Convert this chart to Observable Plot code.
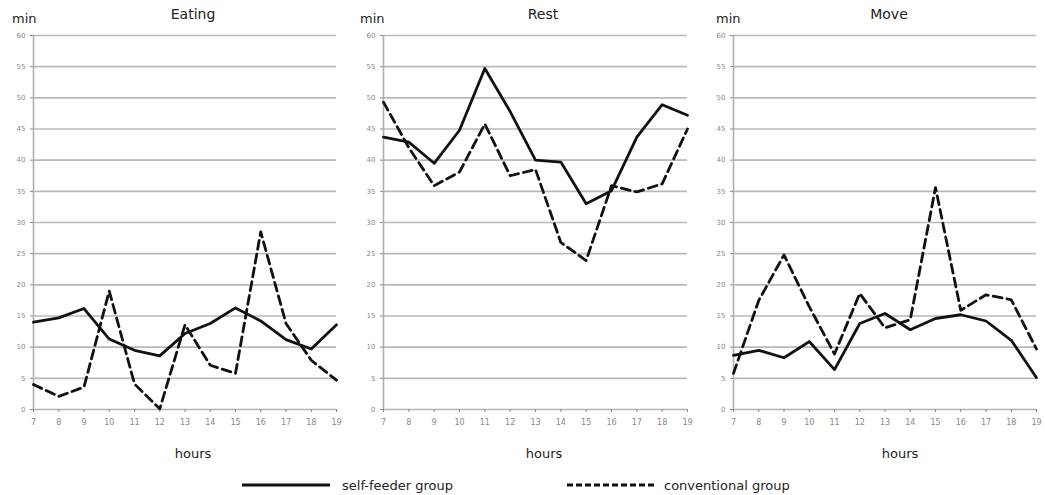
<!DOCTYPE html>
<html><head><meta charset="utf-8">
<script src="https://cdn.jsdelivr.net/npm/d3@7"></script>
<script src="https://cdn.jsdelivr.net/npm/@observablehq/plot@0.6"></script>
<style>
body{margin:0;background:#fff;font-family:"DejaVu Sans",sans-serif;}
#wrap{position:relative;width:1045px;height:495px;overflow:hidden;background:#fff}
.lbl{position:absolute;color:#222;white-space:nowrap;line-height:1}
.panel{position:absolute;top:0}
</style></head><body><div id="wrap"></div><script>
// ---- data ----
const hours = [7,8,9,10,11,12,13,14,15,16,17,18,19];
const yTicks = [0,5,10,15,20,25,30,35,40,45,50,55,60];
const titles = ["Eating","Rest","Move"];
const seriesNames = ["self-feeder group","conventional group"];
const eatingSelf = [14.0,14.7,16.2,11.3,9.5,8.6,12.2,13.8,16.3,14.2,11.2,9.7,13.6];
const eatingConv = [4.0,2.1,3.6,19.0,4.1,0.1,13.6,7.1,5.8,28.5,13.8,7.9,4.7];
const restSelf   = [43.7,42.9,39.5,44.8,54.7,47.8,40.0,39.7,33.0,35.1,43.7,48.9,47.2];
const restConv   = [49.3,42.0,35.9,38.1,45.8,37.5,38.5,26.8,23.9,35.9,34.9,36.2,45.0];
const moveSelf   = [8.7,9.5,8.3,10.9,6.4,13.8,15.4,12.8,14.6,15.2,14.2,11.1,5.1];
const moveConv   = [5.8,17.5,24.8,16.5,8.9,18.6,13.1,14.4,35.6,15.9,18.4,17.6,9.7];

// ---- layout ----
const layout = [
  {x0:33, x1:336, titleX:193, minX:12, hoursX:193},
  {x0:383, x1:687, titleX:543, minX:360, hoursX:544},
  {x0:733, x1:1036, titleX:889, minX:716, hoursX:900}
];
const seriesData = [[eatingSelf,eatingConv],[restSelf,restConv],[moveSelf,moveConv]];
const wrap = document.getElementById("wrap");
const mL = 30, mR = 8;

function addLabel(text, x, y, size, center){
  const d = document.createElement("div");
  d.className = "lbl"; d.textContent = text;
  d.style.fontSize = size + "px"; d.style.top = y + "px";
  if (center){ d.style.left = x + "px"; d.style.transform = "translateX(-50%)"; }
  else d.style.left = x + "px";
  wrap.appendChild(d);
}

layout.forEach((L, i) => {
  const rows = [];
  seriesData[i].forEach((vals, s) => hours.forEach((h, k) => rows.push({hour:h, min:vals[k], group:seriesNames[s]})));
  const plot = Plot.plot({
    width: (L.x1 - L.x0) + mL + mR,
    height: 440,
    marginLeft: mL, marginRight: mR, marginTop: 35, marginBottom: 31,
    style: {fontFamily: '"DejaVu Sans", sans-serif', background: "transparent"},
    x: {domain: [7, 19]},
    y: {domain: [0, 60]},
    marks: [
      Plot.ruleY(yTicks.filter(t => t > 0), {stroke: "#b9b9b9", strokeWidth: 1.6}),
      Plot.ruleY([0], {stroke: "#b0b0b0", strokeWidth: 1.6}),
      Plot.ruleX([7], {stroke: "#b0b0b0", strokeWidth: 1.6}),
      Plot.axisY({ticks: yTicks, tickSize: 3, tickPadding: 5, fontSize: 7, color: "#888", label: null, tickFormat: d => d}),
      Plot.axisX({ticks: hours, tickSize: 3, tickPadding: 7, fontSize: 8, color: "#888", label: null, tickFormat: d => d}),
      Plot.lineY(rows.filter(r => r.group === seriesNames[0]), {x: "hour", y: "min", stroke: "#111", strokeWidth: 2.8}),
      Plot.lineY(rows.filter(r => r.group === seriesNames[1]), {x: "hour", y: "min", stroke: "#111", strokeWidth: 2.8, strokeDasharray: "9,5"})
    ]
  });
  plot.classList.add("panel");
  plot.style.left = (L.x0 - mL) + "px";
  wrap.appendChild(plot);
  addLabel(titles[i], L.titleX, 7, 14, true);
  addLabel("min", L.minX, 12, 13, false);
  addLabel("hours", L.hoursX, 447, 13, true);
});

// legend
const leg = d3.select(wrap).append("svg")
  .attr("width", 1045).attr("height", 30)
  .style("position","absolute").style("left","0px").style("top","470px");
leg.append("line").attr("x1",242).attr("x2",330).attr("y1",15).attr("y2",15)
  .attr("stroke","#111").attr("stroke-width",3);
leg.append("line").attr("x1",567).attr("x2",655).attr("y1",15).attr("y2",15)
  .attr("stroke","#111").attr("stroke-width",3).attr("stroke-dasharray","6,3");
leg.append("text").attr("x",342).attr("y",20).text(seriesNames[0])
  .attr("font-size",13).attr("fill","#222").attr("font-family","DejaVu Sans");
leg.append("text").attr("x",664).attr("y",20).text(seriesNames[1])
  .attr("font-size",13).attr("fill","#222").attr("font-family","DejaVu Sans");
</script></body></html>
